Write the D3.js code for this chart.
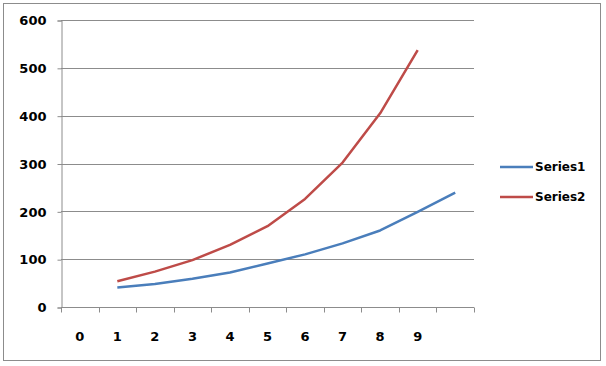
<!DOCTYPE html>
<html>
<head>
<meta charset="utf-8">
<script src="https://cdn.jsdelivr.net/npm/d3@7"></script>
<style>
  body { margin: 0; background: #fff; }
  text { font-family: "DejaVu Sans", sans-serif; font-weight: bold; fill: #000; }
</style>
</head>
<body>
<div id="chart"></div>
<script>
const categories = ["0", "1", "2", "3", "4", "5", "6", "7", "8", "9", ""];
const series1 = [null, 41, 48, 59, 72, 91, 110, 133, 160, 199, 239];
const series2 = [null, 54, 74, 98, 130, 169, 226, 302, 405, 537, null];
const yTicks = [0, 100, 200, 300, 400, 500, 600];
const seriesNames = ["Series1", "Series2"];
const seriesColors = ["#4a7ebb", "#be4b48"];

const width = 606, height = 366;
const plotLeft = 61, plotRight = 474, plotTop = 20, plotBottom = 307;

const svg = d3.select("#chart").append("svg")
  .attr("width", width)
  .attr("height", height);

// outer frame
svg.append("rect")
  .attr("x", 3.5).attr("y", 3.5)
  .attr("width", 597).attr("height", 357)
  .attr("fill", "#fff")
  .attr("stroke", "#8c8c8c");

const x = d3.scaleBand().domain(categories).range([plotLeft, plotRight]);
const y = d3.scaleLinear().domain([0, 600]).range([plotBottom, plotTop]);

// gridlines
svg.append("g")
  .selectAll("line")
  .data(yTicks.filter(d => d > 0))
  .enter().append("line")
  .attr("x1", plotLeft).attr("x2", plotRight)
  .attr("y1", d => Math.round(y(d)) + 0.5)
  .attr("y2", d => Math.round(y(d)) + 0.5)
  .attr("stroke", "#8c8c8c");

// y axis
const yAxis = svg.append("g")
  .attr("transform", `translate(${plotLeft + 0.5},0.5)`)
  .call(d3.axisLeft(y).tickValues(yTicks).tickSize(4).tickPadding(11));
yAxis.selectAll("line, path").attr("stroke", "#8c8c8c");
yAxis.selectAll("text").style("font-size", "13px");

// x axis
const xAxis = svg.append("g")
  .attr("transform", `translate(0,${plotBottom + 0.5})`);
xAxis.append("line")
  .attr("x1", plotLeft).attr("x2", plotRight)
  .attr("stroke", "#8c8c8c");
xAxis.selectAll("line.tick")
  .data(categories.map(c => x(c)).concat([x.range()[1]]))
  .enter().append("line")
  .attr("class", "tick")
  .attr("x1", d => Math.round(d) + 0.5).attr("x2", d => Math.round(d) + 0.5)
  .attr("y1", 0).attr("y2", 5)
  .attr("stroke", "#8c8c8c");
xAxis.selectAll("text")
  .data(categories)
  .enter().append("text")
  .attr("x", d => x(d) + x.bandwidth() / 2)
  .attr("y", 33)
  .attr("text-anchor", "middle")
  .style("font-size", "13px")
  .text(d => d);

// lines
const line = d3.line()
  .defined(d => d.v != null)
  .x(d => x(d.c) + x.bandwidth() / 2)
  .y(d => y(d.v));

[series1, series2].forEach((s, i) => {
  svg.append("path")
    .datum(s.map((v, j) => ({ c: categories[j], v: v })))
    .attr("fill", "none")
    .attr("stroke", seriesColors[i])
    .attr("stroke-width", 2.5)
    .attr("stroke-linejoin", "round")
    .attr("d", line);
});

// legend
const legend = svg.append("g");
seriesNames.forEach((name, i) => {
  const ly = 167 + i * 30;
  legend.append("line")
    .attr("x1", 500).attr("x2", 533)
    .attr("y1", ly).attr("y2", ly)
    .attr("stroke", seriesColors[i])
    .attr("stroke-width", 2.5);
  legend.append("text")
    .attr("x", 535).attr("y", ly)
    .attr("dy", "0.35em")
    .style("font-size", "12px")
    .text(name);
});
</script>
</body>
</html>
